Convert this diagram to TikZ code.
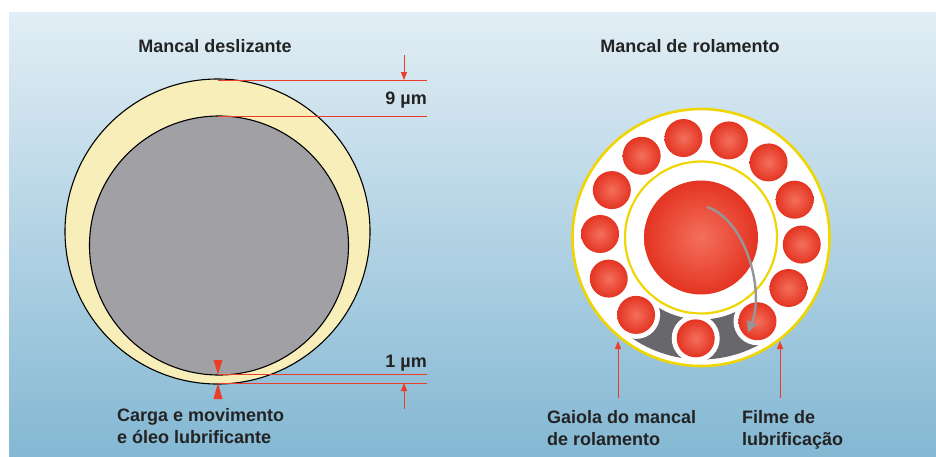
\documentclass[tikz,border=0pt]{standalone}
\usepackage{fontspec}
\setmainfont{Liberation Sans}
\usetikzlibrary{arrows.meta}

\definecolor{skytop}{RGB}{226,238,245}
\definecolor{skybot}{RGB}{132,184,211}
\definecolor{cream}{RGB}{248,238,186}
\definecolor{shaft}{RGB}{161,161,165}
\definecolor{dimred}{RGB}{234,62,40}
\definecolor{ringyellow}{RGB}{240,214,0}
\definecolor{ballred}{RGB}{228,52,34}
\definecolor{balllight}{RGB}{243,112,92}
\definecolor{cagegray}{RGB}{104,104,108}
\definecolor{arrowgray}{RGB}{150,150,152}
\definecolor{textdark}{RGB}{35,35,35}

\tikzset{
  lbl/.style={font=\fontsize{18}{22}\selectfont\bfseries, text=textdark, inner sep=0pt, align=left},
  dimline/.style={draw=dimred, line width=0.9pt},
  dimarrow/.style={draw=dimred, line width=1pt, -{Triangle[length=8pt,width=6pt]}},
  ball/.style={inner color=balllight, outer color=ballred},
}

\begin{document}
\begin{tikzpicture}[x=1pt,y=-1pt]
    \useasboundingbox (0,0) rectangle (936,456);
    \fill[white] (0,0) rectangle (936,456);
    \shade[top color=skytop, bottom color=skybot] (9,12) rectangle (936,456);

    % titles
    \node[lbl] (titleL) at (215,46) {Mancal deslizante};
    \node[lbl] (titleR) at (690,46) {Mancal de rolamento};

    % sliding bearing: bush and eccentric shaft
    \draw[fill=cream, line width=1.1pt] (217.5,231.5) circle[radius=152.5];
    \draw[fill=shaft, line width=1.1pt] (219,245.5) circle[radius=129.5];

    % gap lines
    \coordinate (gapTopA) at (218,80);
    \coordinate (gapTopB) at (218,116);
    \coordinate (gapBotA) at (218,374.5);
    \coordinate (gapBotB) at (218,383);
    \draw[dimline] (gapTopA) -- ++(209,0);
    \draw[dimline] (gapTopB) -- ++(209,0);
    \draw[dimline] (gapBotA) -- ++(209,0);
    \draw[dimline] (gapBotB) -- ++(209,0);

    \coordinate (tickTop) at (404,55);
    \coordinate (tickTopEnd) at (404,80);
    \coordinate (tickBot) at (404,409);
    \coordinate (tickBotEnd) at (404,383);
    \draw[dimarrow] (tickTop) -- (tickTopEnd);
    \draw[dimarrow] (tickBot) -- (tickBotEnd);

    \node[lbl, anchor=east] (gap9) at (427,100) {9 µm};
    \node[lbl, anchor=east] (gap1) at (427,363) {1 µm};

    % load marks
    \fill[dimred] (gapBotA) -- ++(-4.5,-14.5) -- ++(9,0) -- cycle;
    \fill[dimred] (gapBotB) -- ++(-4.5,16) -- ++(9,0) -- cycle;

    \node[lbl, anchor=north west] (loadtxt) at (117,408) {Carga e movimento\\e óleo lubrificante};

    % rolling bearing
    \begin{scope}[shift={(701,237.5)}]
        \draw[ringyellow, fill=white, line width=2.6pt] (0,0) circle[radius=128.5];
        % cage segments
        \foreach \a/\b in {93/130,56/93}
            \fill[cagegray] (\a:82) arc[start angle=\a, end angle=\b, radius=82]
                -- (\b:122) arc[start angle=\b, end angle=\a, radius=122] -- cycle;
        \draw[ringyellow, line width=2.2pt] (0,0) circle[radius=76];
        \foreach \a in {93,56,30,...,-230} {
            \fill[white] (\a:101) circle[radius=24];
            \shade[ball] (\a:101) circle[radius=19];
        }
        \shade[inner color=balllight, outer color=ballred] (0,0) circle[radius=57];
        \coordinate (turnA) at (6,-30.5);
        \coordinate (turnB) at (47,95);
        \draw[arrowgray, line width=2.4pt, -{Triangle[length=11pt,width=10pt]}]
            (turnA) .. controls (44,-18) and (64,52) .. (turnB);
    \end{scope}

    \coordinate (cageTail) at (618,398);
    \coordinate (cageTip) at (618,341);
    \coordinate (filmTail) at (780,398);
    \coordinate (filmTip) at (780,341);
    \draw[dimarrow] (cageTail) -- (cageTip);
    \draw[dimarrow] (filmTail) -- (filmTip);

    \node[lbl, anchor=north west] (cagetxt) at (547,410) {Gaiola do mancal\\de rolamento};
    \node[lbl, anchor=north west] (filmtxt) at (742,410) {Filme de\\lubrificação};
\end{tikzpicture}
\end{document}
